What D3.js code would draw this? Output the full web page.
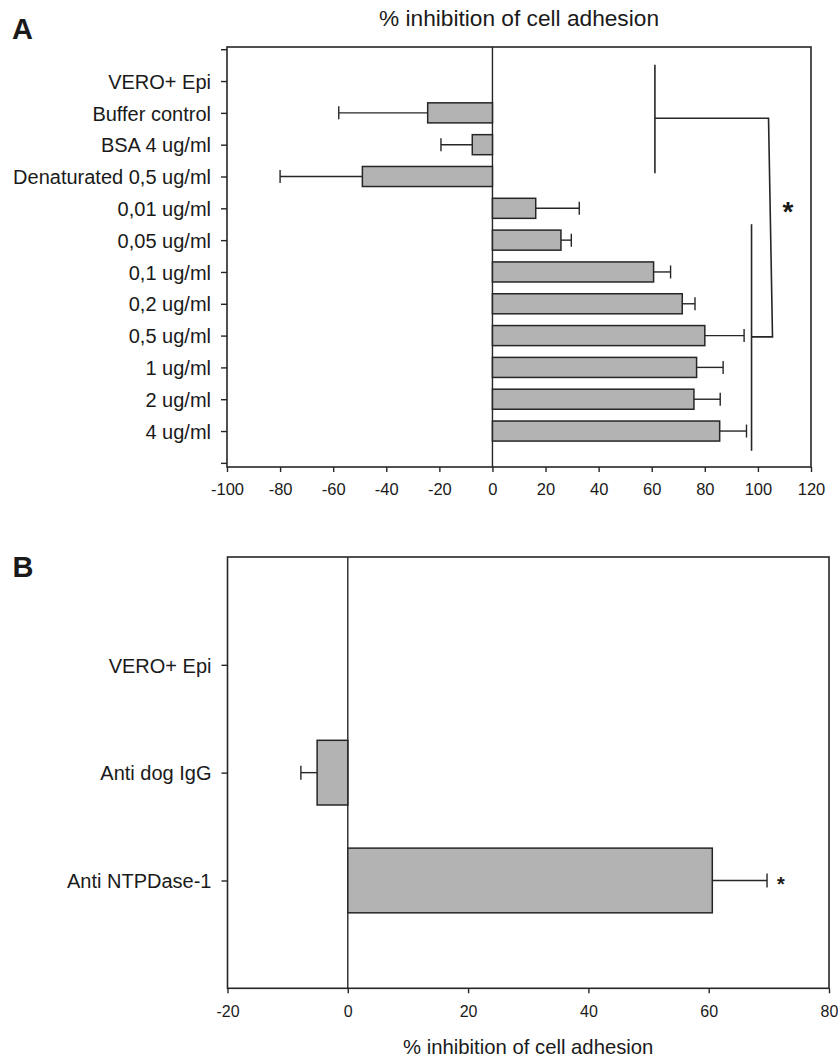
<!DOCTYPE html>
<html>
<head>
<meta charset="utf-8">
<script src="https://cdn.jsdelivr.net/npm/d3@7"></script>
<style>
  body { margin: 0; background: #fff; }
  svg text { font-family: "Liberation Sans", Arial, Helvetica, sans-serif; fill: #1a1a1a; }
</style>
</head>
<body>
<div id="chart"></div>
<script>
/* panel A data */
const catsA = ['VERO+ Epi', 'Buffer control', 'BSA 4 ug/ml', 'Denaturated 0,5 ug/ml',
               '0,01 ug/ml', '0,05 ug/ml', '0,1 ug/ml', '0,2 ug/ml', '0,5 ug/ml',
               '1 ug/ml', '2 ug/ml', '4 ug/ml'];
const valsA = [null, -24.4, -7.6, -49.0, 16.3, 25.8, 60.7, 71.5, 80.0, 76.9, 75.9, 85.6];
const errA  = [null, 33.5, 11.8, 31.0, 16.4, 3.9, 6.4, 4.8, 14.8, 10.0, 9.9, 10.1];
const ticksA = [-100, -80, -60, -40, -20, 0, 20, 40, 60, 80, 100, 120];

/* significance brackets of panel A: [value, category position] */
const bracketsA = [
  [[61.2, 0.49], [61.2, 3.9]],
  [[61.2, 2.17], [104.0, 2.17], [105.5, 9.04], [97.6, 9.04]],
  [[97.6, 5.5], [97.6, 12.62]]
];
const starA = [111.3, 4.9];

/* panel B data */
const catsB = ['VERO+ Epi', 'Anti dog IgG', 'Anti NTPDase-1'];
const valsB = [null, -5.1, 60.6];
const errB  = [null, 2.7, 9.1];
const ticksB = [-20, 0, 20, 40, 60, 80];
const starB = [72.0, 2.99];

const title = '% inhibition of cell adhesion';

const W = 838, H = 1057;
const INK = '#262626';
const FILL = '#b3b3b3';

const svg = d3.select('#chart').append('svg')
  .attr('width', W).attr('height', H);

const drawPanel = (opt) => {
  const g = svg.append('g');
  const x = opt.x, y = opt.y;
  const [x0, x1] = x.range();
  const [y0, y1] = y.range();

  // y axis (category ticks)
  const yAxis = d3.axisLeft(y)
    .tickValues(opt.yTicks)
    .tickSize(6).tickSizeOuter(0).tickPadding(10)
    .tickFormat(d => opt.cats[d - 1] || '');
  const ya = g.append('g').attr('transform', `translate(${x0},0)`).call(yAxis);
  ya.select('.domain').remove();
  ya.selectAll('line').attr('stroke', INK).attr('stroke-width', 1.4);
  ya.selectAll('text').attr('font-size', 20).attr('dy', '0.36em');

  // x axis, plain hyphen for negatives like the original
  const xAxis = d3.axisBottom(x)
    .tickValues(opt.xTicks)
    .tickSize(5).tickSizeOuter(0).tickPadding(opt.xPad)
    .tickFormat(d => String(d));
  const xa = g.append('g').attr('transform', `translate(0,${y1})`).call(xAxis);
  xa.select('.domain').remove();
  xa.selectAll('line').attr('stroke', INK).attr('stroke-width', 1.4);
  xa.selectAll('text').attr('font-size', opt.xFont);

  // frame and zero line
  g.append('rect')
    .attr('x', x0).attr('y', y0)
    .attr('width', x1 - x0).attr('height', y1 - y0)
    .attr('fill', 'none').attr('stroke', INK).attr('stroke-width', 1.6);
  g.append('line')
    .attr('x1', x(0)).attr('x2', x(0))
    .attr('y1', y0).attr('y2', y1)
    .attr('stroke', INK).attr('stroke-width', 1.4);

  const step = y(1) - y(0);
  const bh = step * opt.band;
  const rows = opt.vals.map((v, i) => ({v: v, e: opt.errs[i], pos: i + 1}))
    .filter(d => d.v !== null);

  // error bars (drawn first so bars sit on top)
  const eg = g.selectAll('.err').data(rows).enter().append('g').attr('class', 'err');
  eg.append('line')
    .attr('x1', d => x(d.v))
    .attr('x2', d => x(d.v + Math.sign(d.v) * d.e))
    .attr('y1', d => y(d.pos)).attr('y2', d => y(d.pos))
    .attr('stroke', INK).attr('stroke-width', 1.4);
  eg.append('line')
    .attr('x1', d => x(d.v + Math.sign(d.v) * d.e))
    .attr('x2', d => x(d.v + Math.sign(d.v) * d.e))
    .attr('y1', d => y(d.pos) - opt.cap / 2)
    .attr('y2', d => y(d.pos) + opt.cap / 2)
    .attr('stroke', INK).attr('stroke-width', 1.4);

  g.selectAll('.bar').data(rows).enter().append('rect')
    .attr('class', 'bar')
    .attr('x', d => x(Math.min(0, d.v)))
    .attr('width', d => Math.abs(x(d.v) - x(0)))
    .attr('y', d => y(d.pos) - bh / 2)
    .attr('height', bh)
    .attr('fill', FILL)
    .attr('stroke', INK).attr('stroke-width', 1.5);

  return g;
};

/* ---------- panel A ---------- */
const xA = d3.scaleLinear().domain([-100, 120]).range([227, 811]);
const yA = d3.scaleLinear().domain([-0.07, 13.13]).range([47, 467]);

const gA = drawPanel({
  x: xA, y: yA, cats: catsA, vals: valsA, errs: errA,
  yTicks: d3.range(0, catsA.length + 2), xTicks: ticksA,
  xPad: 11, xFont: 16.5, band: 0.63, cap: 13
});

const line = d3.line().x(d => xA(d[0])).y(d => yA(d[1]));
gA.selectAll('.bracket').data(bracketsA).enter().append('path')
  .attr('class', 'bracket')
  .attr('d', line)
  .attr('fill', 'none').attr('stroke', INK).attr('stroke-width', 1.6);

gA.append('text')
  .attr('x', xA(starA[0])).attr('y', yA(starA[1]))
  .attr('dy', '0.58em')
  .attr('text-anchor', 'middle')
  .attr('font-size', 28).attr('font-weight', 'bold')
  .text('*');

svg.append('text')
  .attr('x', (xA.range()[0] + xA.range()[1]) / 2).attr('y', 26)
  .attr('text-anchor', 'middle').attr('font-size', 22.7)
  .text(title);

svg.append('text')
  .attr('x', 12).attr('y', 39)
  .attr('font-size', 29).attr('font-weight', 'bold')
  .text('A');

/* ---------- panel B ---------- */
const xB = d3.scaleLinear().domain([-20, 80]).range([227.5, 829]);
const yB = d3.scaleLinear().domain([0, 4]).range([557, 988.3]);

const gB = drawPanel({
  x: xB, y: yB, cats: catsB, vals: valsB, errs: errB,
  yTicks: d3.range(1, catsB.length + 1), xTicks: ticksB,
  xPad: 12.5, xFont: 16, band: 0.6, cap: 14
});

gB.append('text')
  .attr('x', xB(starB[0])).attr('y', yB(starB[1]))
  .attr('dy', '0.58em')
  .attr('text-anchor', 'middle')
  .attr('font-size', 20).attr('font-weight', 'bold')
  .text('*');

svg.append('text')
  .attr('x', (xB.range()[0] + xB.range()[1]) / 2).attr('y', 1054)
  .attr('text-anchor', 'middle').attr('font-size', 20.3)
  .text(title);

svg.append('text')
  .attr('x', 12.5).attr('y', 577)
  .attr('font-size', 29).attr('font-weight', 'bold')
  .text('B');
</script>
</body>
</html>
